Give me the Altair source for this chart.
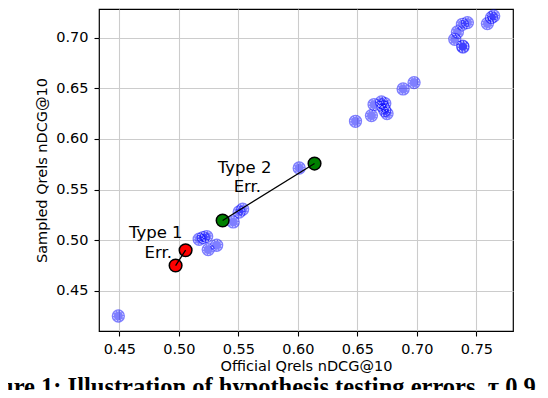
import altair as alt
import pandas as pd

# Blue (agreeing) systems: official vs sampled qrels nDCG@10
blue_official = [0.6484, 0.6618, 0.6640, 0.6702, 0.6730, 0.6749, 0.6716, 0.6730,
                 0.6884, 0.6976, 0.7318, 0.7340, 0.7382, 0.7424, 0.7387, 0.7385,
                 0.7592, 0.7626, 0.7645, 0.6011, 0.5457, 0.5507, 0.5536, 0.5171,
                 0.5205, 0.5234, 0.5247, 0.5318, 0.4492]
blue_sampled = [0.6174, 0.6230, 0.6339, 0.6365, 0.6349, 0.6250, 0.6315, 0.6280,
                0.6493, 0.6556, 0.6983, 0.7055, 0.7131, 0.7148, 0.6907, 0.6915,
                0.7138, 0.7197, 0.7213, 0.5713, 0.5181, 0.5279, 0.5306, 0.5010,
                0.5027, 0.5037, 0.4908, 0.4951, 0.4253]

# Error pairs
type1_official = [0.4973, 0.5057]
type1_sampled = [0.4751, 0.4902]
type2_official = [0.5368, 0.6140]
type2_sampled = [0.5195, 0.5757]

# Annotation labels
label_text = ["Type 1", "Err.", "Type 2", "Err."]
label_official = [0.4806, 0.4827, 0.5553, 0.5576]
label_sampled = [0.5023, 0.4826, 0.5668, 0.5477]

x_ticks = [0.45, 0.50, 0.55, 0.60, 0.65, 0.70, 0.75]
y_ticks = [0.45, 0.50, 0.55, 0.60, 0.65, 0.70]

caption = "Figure 1: Illustration of hypothesis testing errors, \u03c4 0.9"

blue = pd.DataFrame({"official": blue_official, "sampled": blue_sampled})
err = pd.DataFrame({
    "official": type1_official + type2_official,
    "sampled": type1_sampled + type2_sampled,
    "kind": ["Type 1", "Type 1", "Type 2", "Type 2"],
})
pairs = pd.DataFrame({
    "official": [type1_official[0], type2_official[0]],
    "sampled": [type1_sampled[0], type2_sampled[0]],
    "official2": [type1_official[1], type2_official[1]],
    "sampled2": [type1_sampled[1], type2_sampled[1]],
})
labels = pd.DataFrame({"official": label_official, "sampled": label_sampled, "text": label_text})
cap = pd.DataFrame({"caption": [caption]})

FONT = "DejaVu Sans"
xscale = alt.Scale(domain=[0.43296, 0.7807], nice=False, zero=False)
yscale = alt.Scale(domain=[0.4105, 0.7282], nice=False, zero=False)

common_axis = dict(
    format=".2f", grid=True, gridColor="#cccccc", gridWidth=1.1, domain=False,
    tickColor="black", tickSize=5, tickWidth=1.1,
    labelFont=FONT, labelFontSize=14.5, labelColor="black", labelPadding=6,
    titleFont=FONT, titleFontSize=14.5, titleFontWeight="normal", titleColor="black",
)
xaxis = alt.Axis(title="Official Qrels nDCG@10", values=x_ticks, titlePadding=4, **common_axis)
yaxis = alt.Axis(title="Sampled Qrels nDCG@10", values=y_ticks, titlePadding=6, **common_axis)

X = alt.X("official:Q", scale=xscale, axis=xaxis)
Y = alt.Y("sampled:Q", scale=yscale, axis=yaxis)

blue_pts = alt.Chart(blue).mark_circle(size=177, color="#0000ff", opacity=0.5).encode(x=X, y=Y)
blue_rings = alt.Chart(blue).mark_point(
    shape="circle", size=95, filled=False, stroke="white", strokeWidth=1,
    strokeDash=[1.5, 1.5], opacity=0.8
).encode(x=X, y=Y)

err_pts = alt.Chart(err).mark_point(
    shape="circle", size=160, filled=True, opacity=1, stroke="black", strokeWidth=1.5
).encode(
    x=X, y=Y,
    fill=alt.Fill("kind:N", scale=alt.Scale(domain=["Type 1", "Type 2"], range=["#ff0000", "#008000"]), legend=None),
)

lines = alt.Chart(pairs).mark_rule(color="black", strokeWidth=1.3).encode(
    x=X, y=Y, x2="official2:Q", y2="sampled2:Q"
)

texts = alt.Chart(labels).mark_text(
    font=FONT, fontSize=16.5, color="black", align="center", baseline="alphabetic"
).encode(x=X, y=Y, text="text:N")

cap_text = alt.Chart(cap).mark_text(
    font="Liberation Serif", fontSize=24.5, fontWeight="bold", color="black",
    align="left", baseline="alphabetic"
).encode(x=alt.value(-133), y=alt.value(386), text="caption:N")

chart = alt.layer(blue_pts, blue_rings, err_pts, lines, texts, cap_text).properties(
    width=414, height=322,
    autosize=alt.AutoSizeParams(type="none"),
    padding={"left": 91, "top": 1, "right": 27, "bottom": 59},
    background="white",
).configure_view(stroke="black", strokeWidth=1.2)

chart.save("out.html", embed_options={"renderer": "svg", "actions": False})
